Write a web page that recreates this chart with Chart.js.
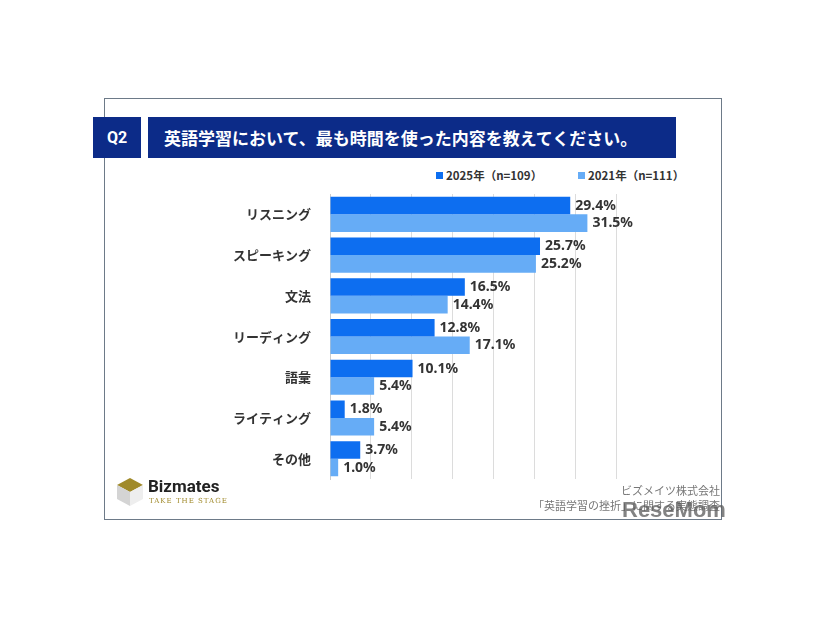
<!DOCTYPE html>
<html><head><meta charset="utf-8">
<script src="https://cdn.jsdelivr.net/npm/chart.js@4"></script>
<style>
body{margin:0;background:#fff;font-family:"Noto Sans CJK JP","Noto Sans",sans-serif;}
#frame{position:absolute;left:104px;top:98px;width:616px;height:420px;border:1.5px solid #6d7a88;}
.q{position:absolute;left:93px;top:117px;width:48px;height:41px;background:#0c2b88;color:#fff;font-weight:bold;font-size:16px;line-height:41px;text-align:center;font-family:Roboto,sans-serif}
.title{position:absolute;left:148px;top:117px;width:528px;height:41px;background:#0c2b88;color:#fff;font-weight:bold;font-size:17px;line-height:41px;padding-left:16px;box-sizing:border-box}
.leg{position:absolute;top:167px;font-size:11.5px;font-weight:bold;color:#333}
.leg i{display:inline-block;width:7px;height:7px;margin-right:3px;vertical-align:1px}
#wrap{position:absolute;left:104px;top:165px;width:618px;height:333px}
.src{position:absolute;right:106px;font-size:11px;color:#777;text-align:right}
</style></head><body>
<div id="frame"></div>
<div class="q">Q2</div>
<div class="title">英語学習において、最も時間を使った内容を教えてください。</div>
<div class="leg" style="left:436px"><i style="background:#0d6ef0"></i>2025年（n=109）</div>
<div class="leg" style="left:578px"><i style="background:#66acf6"></i>2021年（n=111）</div>
<div id="wrap"><canvas id="c"></canvas></div>
<svg style="position:absolute;left:117px;top:478px" width="26" height="28"><polygon points="13,0 26,7 13,14 0,7" fill="#a08a2a"/><polygon points="0,7 13,14 13,28 0,21" fill="#d4d4d4"/><polygon points="26,7 13,14 13,28 26,21" fill="#eee"/></svg>
<div style="position:absolute;left:148px;top:476px;font-size:17px;font-weight:bold;color:#222;font-family:Roboto,sans-serif">Bizmates</div>
<div style="position:absolute;left:149px;top:497px;font-size:7px;color:#a08a2a;letter-spacing:1px;font-family:'DejaVu Serif',serif">TAKE THE STAGE</div>
<div class="src" style="top:482px">ビズメイツ株式会社</div>
<div class="src" style="top:497px">「英語学習の挫折」に関する実態調査</div>
<div style="position:absolute;left:622px;top:497px;font-size:22px;font-weight:bold;color:rgba(90,90,90,0.75);font-family:'Liberation Sans',sans-serif">ReseMom</div>
<script>
var categories = ['リスニング','スピーキング','文法','リーディング','語彙','ライティング','その他'];
var values2025 = [29.4, 25.7, 16.5, 12.8, 10.1, 1.8, 3.7];
var values2021 = [31.5, 25.2, 14.4, 17.1, 5.4, 5.4, 1.0];

// 棒の右に値ラベルを描く
var valueLabels = {
  id: 'valueLabels',
  afterDatasetsDraw: function (chart) {
    var ctx = chart.ctx;
    ctx.save();
    ctx.font = 'bold 14px "Noto Sans", sans-serif';
    ctx.fillStyle = '#333';
    ctx.textBaseline = 'middle';
    chart.data.datasets.forEach(function (ds, i) {
      chart.getDatasetMeta(i).data.forEach(function (bar, j) {
        ctx.fillText(ds.data[j].toFixed(1) + '%', bar.x + 5, bar.y);
      });
    });
    ctx.restore();
  }
};

new Chart(document.getElementById('c').getContext('2d'), {
  type: 'bar',
  data: { labels: categories, datasets: [
    { label: '2025年（n=109）', data: values2025, backgroundColor: '#0d6ef0', categoryPercentage: 0.86, barPercentage: 1 },
    { label: '2021年（n=111）', data: values2021, backgroundColor: '#66acf6', categoryPercentage: 0.86, barPercentage: 1 }
  ]},
  options: {
    indexAxis: 'y',
    responsive: true,
    maintainAspectRatio: false,
    animation: false,
    layout: { padding: { top: 29, bottom: 0, right: 106, left: 0 } },
    plugins: { legend: { display: false }, tooltip: { enabled: false } },
    scales: {
      x: { min: 0, max: 35, ticks: { display: false, stepSize: 5 }, grid: { color: '#dcdcdc', drawTicks: false }, border: { display: false } },
      y: {
        afterFit: function (s) { s.width = 226; },
        grid: { display: false },
        border: { color: '#ccc' },
        ticks: { color: '#333', padding: 11, font: { family: '"Noto Sans CJK JP"', weight: 'bold', size: 13 } }
      }
    }
  },
  plugins: [valueLabels]
});
</script>
</body></html>
